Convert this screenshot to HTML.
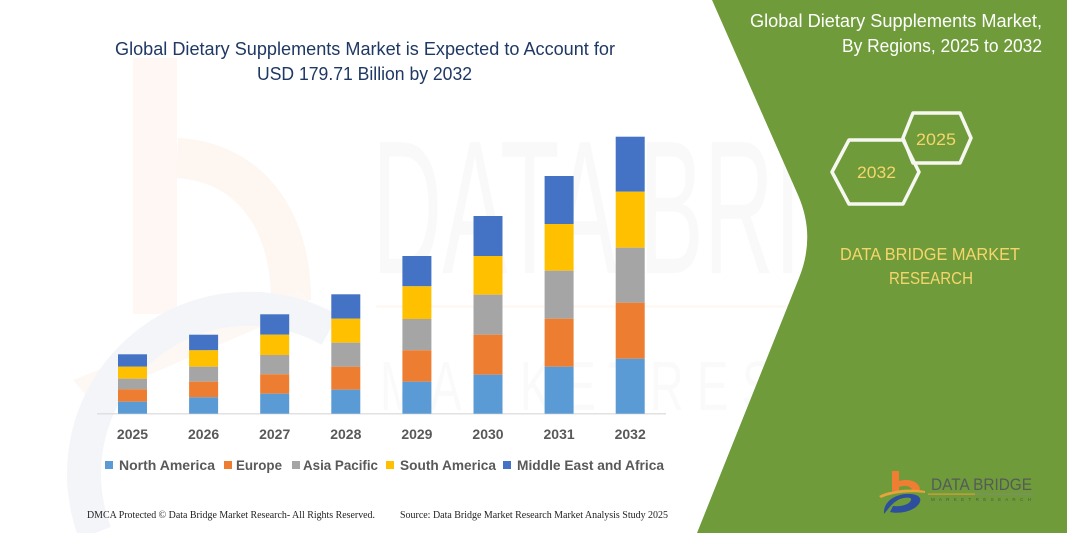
<!DOCTYPE html>
<html>
<head>
<meta charset="utf-8">
<style>
html,body{margin:0;padding:0;background:#fff;}
svg{display:block;}
</style>
</head>
<body>
<svg width="1067" height="533" viewBox="0 0 1067 533" xmlns="http://www.w3.org/2000/svg">
  <rect width="1067" height="533" fill="#ffffff"/>

  <!-- faint watermark logo (left) -->
  <g>
    <rect x="133" y="58" width="44" height="256" fill="#fef7f3"/>
    <path d="M177,158 C250,162 291,220 291,300" fill="none" stroke="#fef6f1" stroke-width="40"/>
    <path d="M73,380 L300,290 L312,305 L90,400 Z" fill="#fef8f4"/>
    <path d="M95,533 A165,165 0 0 1 330,330" fill="none" stroke="#f3f5f9" stroke-width="34"/>
  </g>

  <!-- faint watermark text -->
  <text x="372" y="273" font-family="Liberation Sans, sans-serif" font-size="190" fill="#000" fill-opacity="0.022" textLength="640" lengthAdjust="spacingAndGlyphs">DATA BRIDGE</text>
  <rect x="376" y="305" width="640" height="3" fill="#f59a5c" fill-opacity="0.06"/>
  <text x="380" y="410" font-family="Liberation Sans, sans-serif" font-size="70" fill="#000" fill-opacity="0.02" textLength="620" lengthAdjust="spacingAndGlyphs">M A R K E T   R E S E A R C H</text>

  <!-- green panel -->
  <path d="M712,0 L798,195 Q816,236 799,278 L697,533 L1067,533 L1067,0 Z" fill="#6f9b3a"/>

  <!-- main title -->
  <text x="115" y="55" font-family="Liberation Sans, sans-serif" font-size="18" fill="#1f3864" textLength="500" lengthAdjust="spacingAndGlyphs">Global Dietary Supplements Market is Expected to Account for</text>
  <text x="257" y="80" font-family="Liberation Sans, sans-serif" font-size="18" fill="#1f3864" textLength="215" lengthAdjust="spacingAndGlyphs">USD 179.71 Billion by 2032</text>

  <!-- axis line -->
  <line x1="97" y1="413.8" x2="666" y2="413.8" stroke="#d9d9d9" stroke-width="1.2"/>

  <!-- bars -->
  <g>
    <rect x="118" y="354.3" width="29" height="12.4" fill="#4472c4"/>
    <rect x="118" y="366.7" width="29" height="12" fill="#ffc000"/>
    <rect x="118" y="378.7" width="29" height="10.6" fill="#a5a5a5"/>
    <rect x="118" y="389.3" width="29" height="12.4" fill="#ed7d31"/>
    <rect x="118" y="401.7" width="29" height="12" fill="#5b9bd5"/>

    <rect x="189.1" y="334.7" width="29" height="15.6" fill="#4472c4"/>
    <rect x="189.1" y="350.3" width="29" height="16.4" fill="#ffc000"/>
    <rect x="189.1" y="366.7" width="29" height="15" fill="#a5a5a5"/>
    <rect x="189.1" y="381.7" width="29" height="15.6" fill="#ed7d31"/>
    <rect x="189.1" y="397.3" width="29" height="16.4" fill="#5b9bd5"/>

    <rect x="260.2" y="314.3" width="29" height="20.4" fill="#4472c4"/>
    <rect x="260.2" y="334.7" width="29" height="20.3" fill="#ffc000"/>
    <rect x="260.2" y="355" width="29" height="19.3" fill="#a5a5a5"/>
    <rect x="260.2" y="374.3" width="29" height="19.4" fill="#ed7d31"/>
    <rect x="260.2" y="393.7" width="29" height="20" fill="#5b9bd5"/>

    <rect x="331.3" y="294.3" width="29" height="24.4" fill="#4472c4"/>
    <rect x="331.3" y="318.7" width="29" height="24" fill="#ffc000"/>
    <rect x="331.3" y="342.7" width="29" height="24" fill="#a5a5a5"/>
    <rect x="331.3" y="366.7" width="29" height="23" fill="#ed7d31"/>
    <rect x="331.3" y="389.7" width="29" height="24" fill="#5b9bd5"/>

    <rect x="402.4" y="256" width="29" height="30.3" fill="#4472c4"/>
    <rect x="402.4" y="286.3" width="29" height="32.7" fill="#ffc000"/>
    <rect x="402.4" y="319" width="29" height="31.3" fill="#a5a5a5"/>
    <rect x="402.4" y="350.3" width="29" height="31.4" fill="#ed7d31"/>
    <rect x="402.4" y="381.7" width="29" height="32" fill="#5b9bd5"/>

    <rect x="473.5" y="216" width="29" height="40" fill="#4472c4"/>
    <rect x="473.5" y="256" width="29" height="38.7" fill="#ffc000"/>
    <rect x="473.5" y="294.7" width="29" height="40" fill="#a5a5a5"/>
    <rect x="473.5" y="334.7" width="29" height="40" fill="#ed7d31"/>
    <rect x="473.5" y="374.7" width="29" height="39" fill="#5b9bd5"/>

    <rect x="544.6" y="176" width="29" height="48" fill="#4472c4"/>
    <rect x="544.6" y="224" width="29" height="46.7" fill="#ffc000"/>
    <rect x="544.6" y="270.7" width="29" height="48" fill="#a5a5a5"/>
    <rect x="544.6" y="318.7" width="29" height="48" fill="#ed7d31"/>
    <rect x="544.6" y="366.7" width="29" height="47" fill="#5b9bd5"/>

    <rect x="615.7" y="136.7" width="29" height="55" fill="#4472c4"/>
    <rect x="615.7" y="191.7" width="29" height="56" fill="#ffc000"/>
    <rect x="615.7" y="247.7" width="29" height="55" fill="#a5a5a5"/>
    <rect x="615.7" y="302.7" width="29" height="56" fill="#ed7d31"/>
    <rect x="615.7" y="358.7" width="29" height="55" fill="#5b9bd5"/>
  </g>

  <!-- year labels -->
  <g font-family="Liberation Sans, sans-serif" font-size="14" font-weight="bold" fill="#595959" text-anchor="middle">
    <text x="132.5" y="439">2025</text>
    <text x="203.6" y="439">2026</text>
    <text x="274.7" y="439">2027</text>
    <text x="345.8" y="439">2028</text>
    <text x="416.9" y="439">2029</text>
    <text x="488" y="439">2030</text>
    <text x="559.1" y="439">2031</text>
    <text x="630.2" y="439">2032</text>
  </g>

  <!-- legend -->
  <g font-family="Liberation Sans, sans-serif" font-size="14" font-weight="bold" fill="#595959">
    <rect x="105" y="461" width="8" height="8" fill="#5b9bd5"/>
    <text x="119" y="470" textLength="96" lengthAdjust="spacingAndGlyphs">North America</text>
    <rect x="224" y="461" width="8" height="8" fill="#ed7d31"/>
    <text x="236" y="470" textLength="46" lengthAdjust="spacingAndGlyphs">Europe</text>
    <rect x="292" y="461" width="8" height="8" fill="#a5a5a5"/>
    <text x="303" y="470" textLength="75" lengthAdjust="spacingAndGlyphs">Asia Pacific</text>
    <rect x="386" y="461" width="8" height="8" fill="#ffc000"/>
    <text x="400" y="470" textLength="96" lengthAdjust="spacingAndGlyphs">South America</text>
    <rect x="503" y="461" width="8" height="8" fill="#4472c4"/>
    <text x="517" y="470" textLength="147" lengthAdjust="spacingAndGlyphs">Middle East and Africa</text>
  </g>

  <!-- footer -->
  <g font-family="Liberation Serif, serif" font-size="10" fill="#222">
    <text x="87" y="518" textLength="288" lengthAdjust="spacingAndGlyphs">DMCA Protected © Data Bridge Market Research- All Rights Reserved.</text>
    <text x="400" y="518" textLength="268" lengthAdjust="spacingAndGlyphs">Source: Data Bridge Market Research Market Analysis Study 2025</text>
  </g>

  <!-- right panel title -->
  <g font-family="Liberation Sans, sans-serif" font-size="18" fill="#ffffff">
    <text x="750" y="27" textLength="292" lengthAdjust="spacingAndGlyphs">Global Dietary Supplements Market,</text>
    <text x="842" y="52" textLength="200" lengthAdjust="spacingAndGlyphs">By Regions, 2025 to 2032</text>
  </g>

  <!-- hexagons -->
  <g fill="none" stroke="#f7f7f2" stroke-width="3.5" stroke-linejoin="round">
    <polygon points="903,138 913,113 960,113 971,138 960,163 913,163"/>
    <polygon points="832,172 849,140 903,140 919,172 903,204 849,204"/>
  </g>
  <g font-family="Liberation Sans, sans-serif" font-size="17" fill="#f5d66c" text-anchor="middle">
    <text x="936" y="145" textLength="40" lengthAdjust="spacingAndGlyphs">2025</text>
    <text x="876.5" y="178" textLength="39" lengthAdjust="spacingAndGlyphs">2032</text>
  </g>

  <!-- DBMR text -->
  <g font-family="Liberation Sans, sans-serif" font-size="17.5" fill="#f5d66c">
    <text x="840" y="260" textLength="180" lengthAdjust="spacingAndGlyphs">DATA BRIDGE MARKET</text>
    <text x="889" y="284" textLength="84" lengthAdjust="spacingAndGlyphs">RESEARCH</text>
  </g>

  <!-- bottom-right logo -->
  <g>
    <rect x="892" y="471" width="7" height="20" fill="#ef7d32"/>
    <path d="M899,481 C910,478 920,482 920,490 L912,490 C911,486 905,485 899,487 Z" fill="#ef7d32"/>
    <path d="M879,496 C890,490 910,488 925,491 L925,493 C910,491 892,493 881,498 Z" fill="#e8a33a"/>
    <path d="M884,514 C883,505 890,496 905,494 C918,493 924,498 918,505 C912,512 898,514 890,512 L893,506 C902,507 910,504 911,500 C912,497 906,497 900,499 C893,502 889,508 884,514 Z" fill="#2e4f9e"/>
    <text x="931" y="490" font-family="Liberation Sans, sans-serif" font-size="17" fill="#555b57" textLength="101" lengthAdjust="spacingAndGlyphs">DATA BRIDGE</text>
    <rect x="928" y="493.5" width="47" height="1.2" fill="#d9a03a"/>
    <rect x="975" y="493.5" width="58" height="1.2" fill="#7f8f6a"/>
    <text x="931" y="501" font-family="Liberation Sans, sans-serif" font-size="4.5" fill="#4b5a44" textLength="100" lengthAdjust="spacing">M A R K E T   R E S E A R C H</text>
  </g>
</svg>
</body>
</html>
